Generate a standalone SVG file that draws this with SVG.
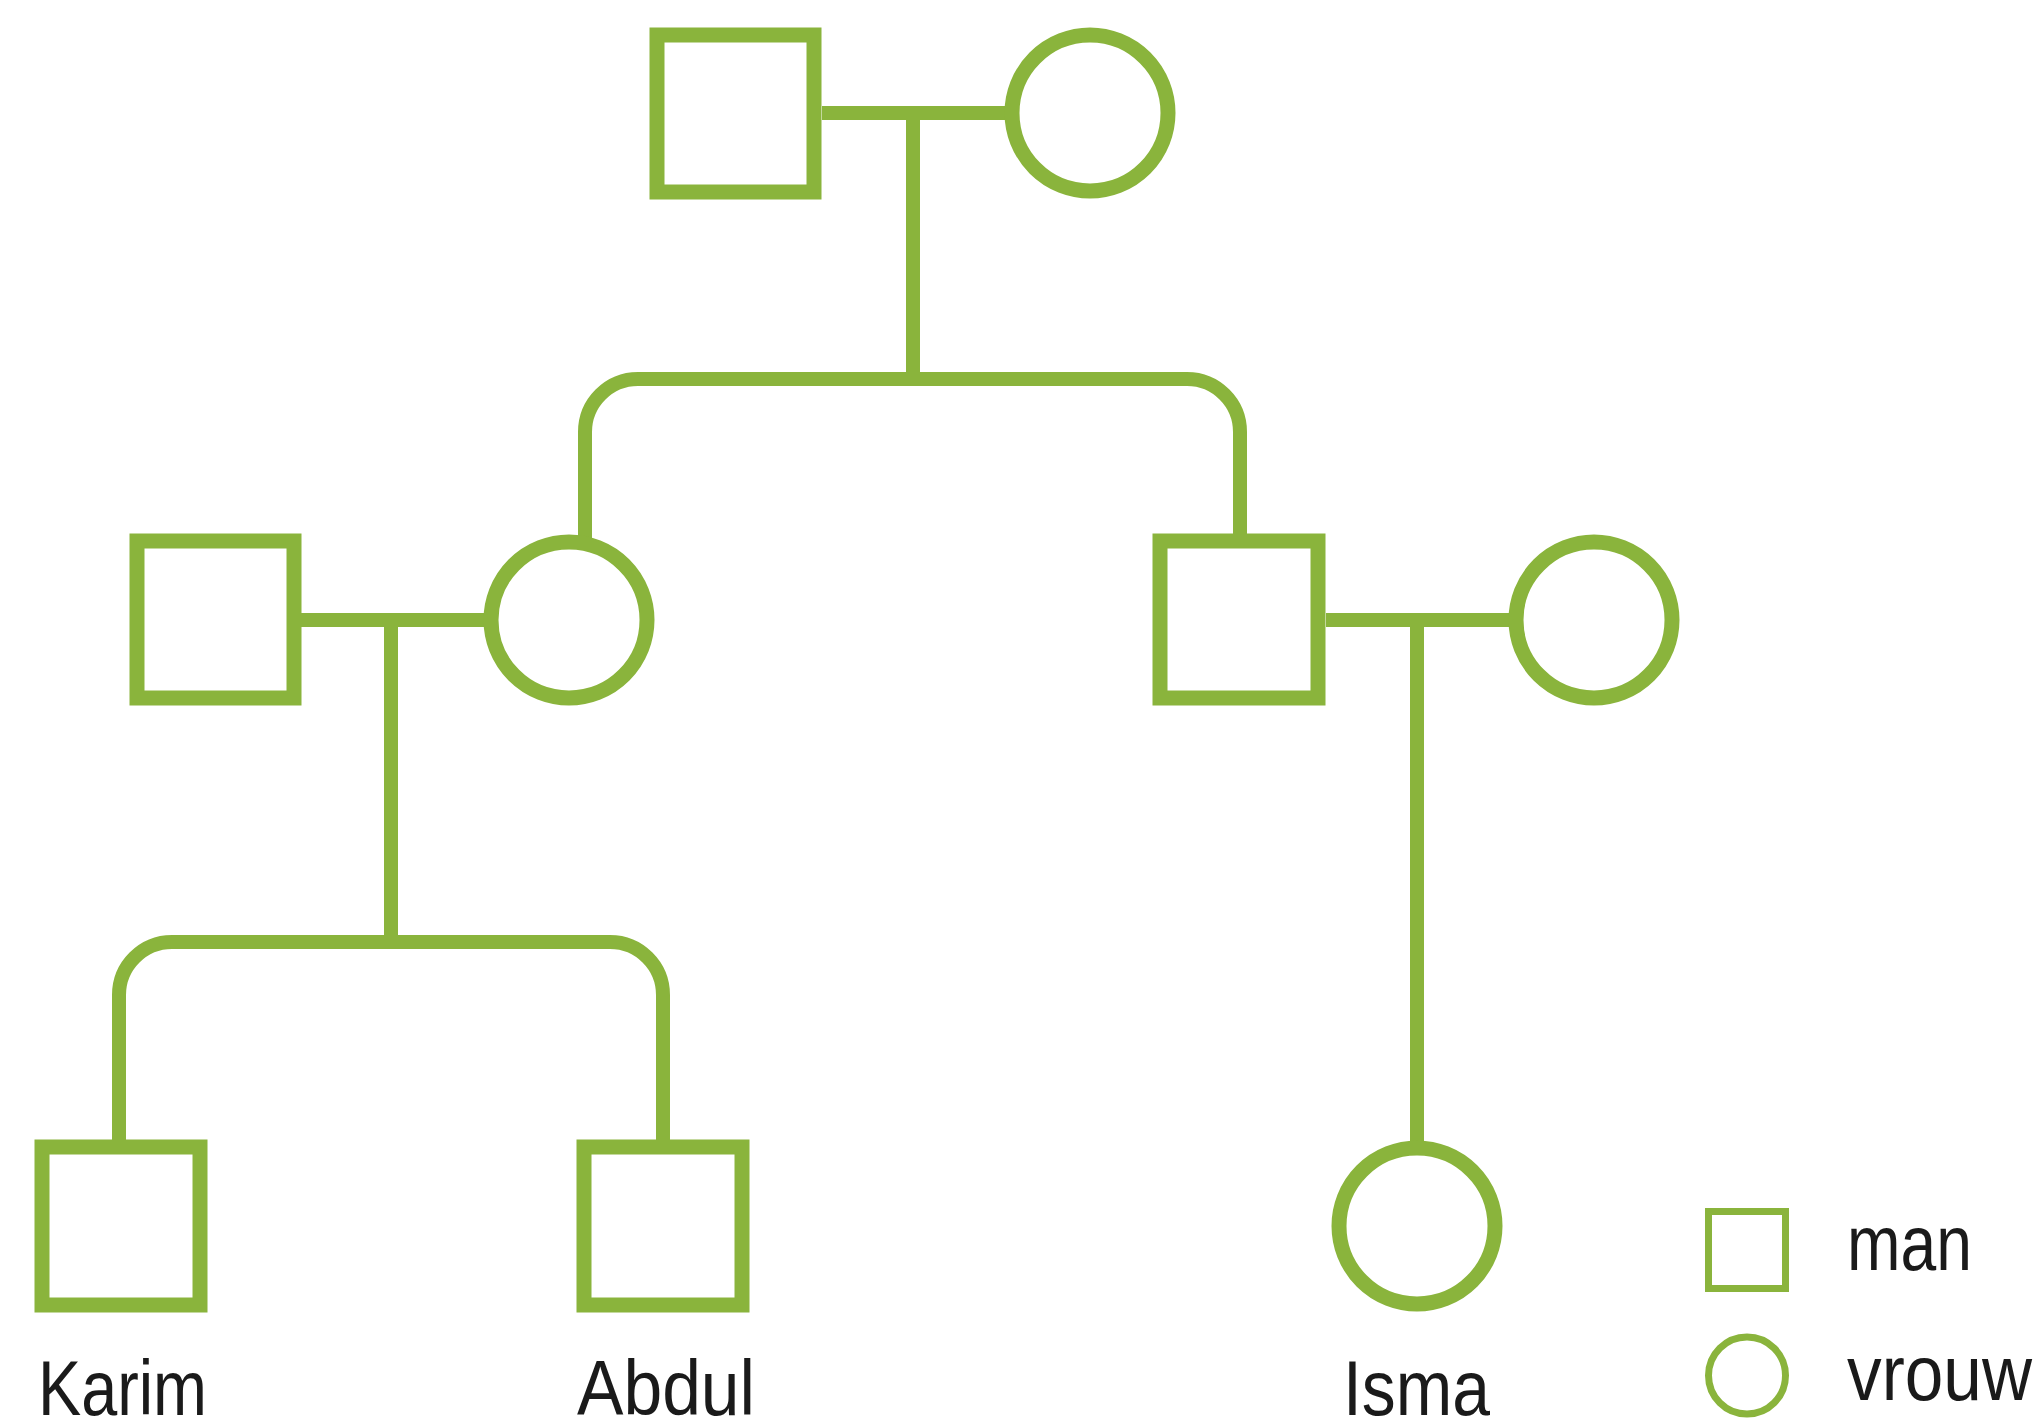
<svg xmlns="http://www.w3.org/2000/svg" width="2036" height="1424" viewBox="0 0 2036 1424">
<style>
.node{fill:#ffffff;stroke:#8ab43c;stroke-width:15}
.leg{fill:#ffffff;stroke:#8ab43c;stroke-width:7}
.conn{fill:none;stroke:#8ab43c;stroke-width:14}
.lbl{font-family:"Liberation Sans",Arial,sans-serif;font-size:77px;fill:#1a1a1a}
</style>
<rect width="2036" height="1424" fill="#ffffff"/>
<g id="connectors">
<path class="conn" d="M822,113 H1012"/>
<path class="conn" d="M913,113 V379"/>
<path class="conn" d="M585,541 V432 A53,53 0 0 1 638,379 H1187 A53,53 0 0 1 1240,432 V541"/>
<path class="conn" d="M301,620 H491"/>
<path class="conn" d="M391,620 V942"/>
<path class="conn" d="M119,1147 V995 A53,53 0 0 1 172,942 H610 A53,53 0 0 1 663,995 V1147"/>
<path class="conn" d="M1326,620 H1516"/>
<path class="conn" d="M1417,620 V1148"/>
</g>
<g id="grandfather"><rect class="node" x="657" y="35" width="157" height="157"/></g>
<g id="grandmother"><circle class="node" cx="1090" cy="113" r="78"/></g>
<g id="father-karim"><rect class="node" x="137" y="541" width="157" height="157"/></g>
<g id="mother-karim"><circle class="node" cx="569" cy="620" r="78"/></g>
<g id="father-isma"><rect class="node" x="1160" y="541" width="158" height="157"/></g>
<g id="mother-isma"><circle class="node" cx="1594" cy="620" r="78"/></g>
<g id="karim"><rect class="node" x="42" y="1147" width="158" height="158"/>
<text class="lbl" x="38" y="1415" textLength="169" lengthAdjust="spacingAndGlyphs">Karim</text></g>
<g id="abdul"><rect class="node" x="584" y="1147" width="158" height="158"/>
<text class="lbl" x="577" y="1415" textLength="178" lengthAdjust="spacingAndGlyphs">Abdul</text></g>
<g id="isma"><circle class="node" cx="1417" cy="1226" r="78"/>
<text class="lbl" x="1343" y="1415" textLength="147" lengthAdjust="spacingAndGlyphs">Isma</text></g>
<g id="legend-man"><rect class="leg" x="1708.5" y="1211.5" width="77" height="77"/>
<text class="lbl" x="1847" y="1270" textLength="125" lengthAdjust="spacingAndGlyphs">man</text></g>
<g id="legend-vrouw"><circle class="leg" cx="1747" cy="1375.5" r="38.5"/>
<text class="lbl" x="1847" y="1400" textLength="185" lengthAdjust="spacingAndGlyphs">vrouw</text></g>
</svg>
